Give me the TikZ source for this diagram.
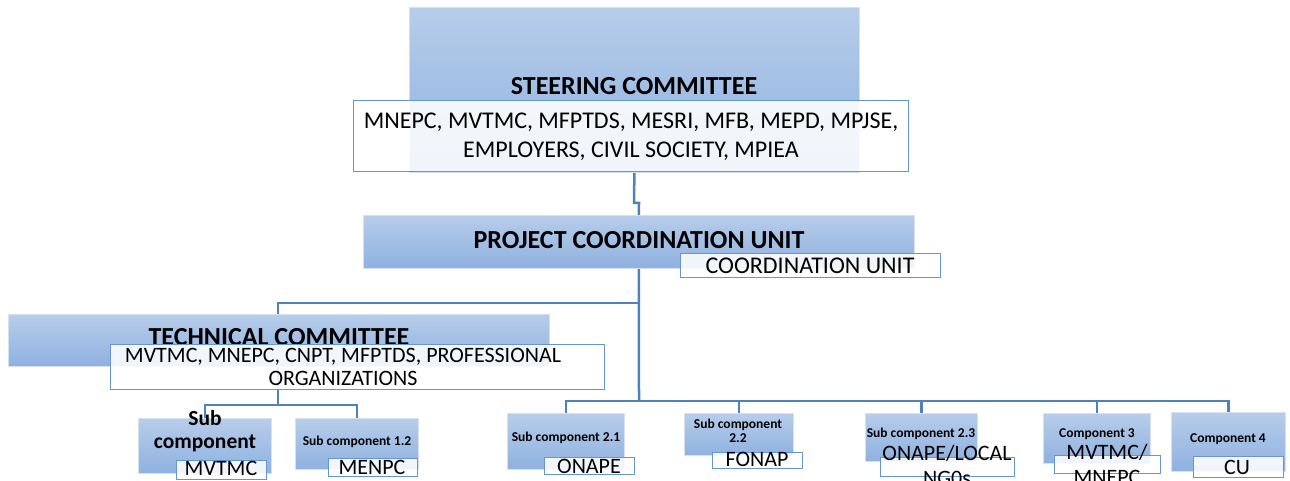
\documentclass[tikz,border=0pt]{standalone}
\usepackage{fontspec}
\setmainfont{Carlito}
\pgfdeclarelayer{back}
\pgfsetlayers{back,main}
\definecolor{linkblue}{RGB}{79,129,189}
\definecolor{gtop}{RGB}{183,205,234}
\definecolor{gbot}{RGB}{143,177,224}
\definecolor{boxedge}{RGB}{214,225,240}
\definecolor{tagedge}{RGB}{100,150,210}
\tikzset{
  panel/.style={anchor=north west, inner sep=0pt, draw=boxedge, line width=0.8pt,
    top color=gtop, bottom color=gbot},
  tag/.style={anchor=north west, inner sep=0pt, draw=tagedge, line width=1.2pt,
    fill=white, fill opacity=0.88},
  link/.style={draw=linkblue, line width=2.5pt},
  headtxt/.style={inner sep=0pt, align=center, font=\fontsize{26}{30}\selectfont\bfseries},
  listtxt/.style={inner sep=0pt, align=center, font=\fontsize{24}{29}\selectfont},
  techtxt/.style={inner sep=0pt, align=center, font=\fontsize{22}{23}\selectfont},
  tagtxt/.style={inner sep=0pt, align=center, font=\fontsize{22}{25}\selectfont},
  smalltxt/.style={inner sep=0pt, align=center, font=\fontsize{13.5}{14}\selectfont\bfseries},
}
\begin{document}
\begin{tikzpicture}[x=1pt,y=-1pt]
\useasboundingbox (0,0) rectangle (1290,481);

% steering committee
\node[panel, minimum width=450pt, minimum height=165pt] (steer) at (409,7) {};
\node[headtxt] (steertitle) at (634,86) {STEERING COMMITTEE};
\node[tag, minimum width=555pt, minimum height=71pt] (steertag) at (353,100) {};
\node[listtxt] (steerlist) at (631,137) {MNEPC, MVTMC, MFPTDS, MESRI, MFB, MEPD, MPJSE,\\EMPLOYERS, CIVIL SOCIETY, MPIEA};

% project coordination unit
\node[panel, minimum width=551pt, minimum height=53pt] (pcu) at (363,215) {};
\node[headtxt] (pcutitle) at (639,240) {PROJECT COORDINATION UNIT};
\node[tag, minimum width=260pt, minimum height=24pt] (pcutag) at (680,253) {};
\node[tagtxt, font=\fontsize{24}{26}\selectfont] (pcutagtxt) at (810,266) {COORDINATION UNIT};

% technical committee
\node[panel, minimum width=541pt, minimum height=52pt] (tech) at (8,314) {};
\node[headtxt] (techtitle) at (279,337) {TECHNICAL COMMITTEE};
\node[tag, minimum width=494pt, minimum height=45pt] (techtag) at (110,344) {};
\node[techtxt] (techlist) at (343,367) {MVTMC, MNEPC, CNPT, MFPTDS, PROFESSIONAL\\ORGANIZATIONS};

% sub components and components
\node[panel, minimum width=133pt, minimum height=55pt] (sc11) at (138,418) {};
\node[inner sep=0pt, align=center, font=\fontsize{21.5}{23}\selectfont\bfseries] (sc11txt) at (205,431) {Sub\\component};
\node[tag, minimum width=90pt, minimum height=19pt] (sc11tag) at (176,460) {};
\node[tagtxt] (sc11tagtxt) at (221,468) {MVTMC};

\node[panel, minimum width=123pt, minimum height=51pt] (sc12) at (295,418) {};
\node[smalltxt] (sc12txt) at (357,442) {Sub component 1.2};
\node[tag, minimum width=89pt, minimum height=18pt] (sc12tag) at (328,458) {};
\node[tagtxt] (sc12tagtxt) at (372,467) {MENPC};

\node[panel, minimum width=117pt, minimum height=56pt] (sc21) at (507,413) {};
\node[smalltxt] (sc21txt) at (566,438) {Sub component 2.1};
\node[tag, minimum width=90pt, minimum height=17pt] (sc21tag) at (544,457) {};
\node[tagtxt] (sc21tagtxt) at (589,466) {ONAPE};

\node[panel, minimum width=109pt, minimum height=42pt] (sc22) at (684,413) {};
\node[smalltxt] (sc22txt) at (738,431) {Sub component\\2.2};
\node[tag, minimum width=90pt, minimum height=16pt] (sc22tag) at (712,452) {};
\node[tagtxt] (sc22tagtxt) at (757,459) {FONAP};

\node[panel, minimum width=112pt, minimum height=48pt] (sc23) at (865,413) {};
\node[smalltxt] (sc23txt) at (921,434) {Sub component 2.3};
\node[tag, minimum width=134pt, minimum height=19pt] (sc23tag) at (880,457) {};
\node[tagtxt] (sc23tagtxt) at (947,465.5) {ONAPE/LOCAL\\NG0s};

\node[panel, minimum width=107pt, minimum height=50pt] (c3) at (1043,413) {};
\node[smalltxt] (c3txt) at (1097,434) {Component 3};
\node[tag, minimum width=106pt, minimum height=18pt] (c3tag) at (1054,455) {};
\node[tagtxt] (c3tagtxt) at (1107,464.5) {MVTMC/\\MNEPC};

\node[panel, minimum width=114pt, minimum height=59pt] (c4) at (1171,412) {};
\node[smalltxt] (c4txt) at (1228,439) {Component 4};
\node[tag, minimum width=90pt, minimum height=21pt] (c4tag) at (1193,456) {};
\node[tagtxt] (c4tagtxt) at (1237,467) {CU};

% connectors, behind the boxes
\coordinate (kink) at (634,203);
\coordinate (techhub) at (639,303);
\coordinate (mainbar) at (639,401);
\coordinate (subbar) at (278,405);
\begin{pgfonlayer}{back}
  \draw[link] (steer.south) -- (kink) -- ++(5,0) -- (pcu.north);
  \draw[link] (pcu.south) -- (mainbar);
  \draw[link] (techhub) -| (subbar);
  \draw[link] (sc11.north) |- (subbar) -| (sc12.north);
  \draw[link] (sc21.north) |- (mainbar) -| (c4.north);
  \draw[link] (sc22.north) -- (sc22.north |- mainbar);
  \draw[link] (sc23.north) -- (sc23.north |- mainbar);
  \draw[link] (c3.north) -- (c3.north |- mainbar);
\end{pgfonlayer}
\end{tikzpicture}
\end{document}
